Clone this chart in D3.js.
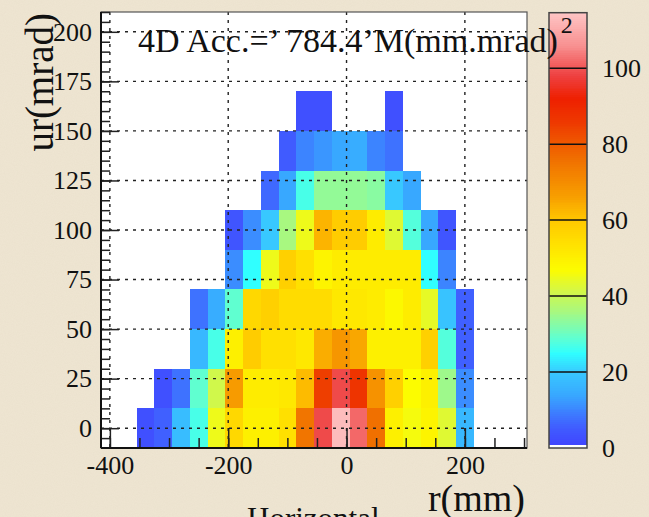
<!DOCTYPE html>
<html>
<head>
<meta charset="utf-8">
<script src="https://cdn.jsdelivr.net/npm/d3@7"></script>
<style>
  html, body { margin: 0; padding: 0; background: #efe6d3; }
  svg { display: block; }
  text { font-family: "Liberation Serif", "Times New Roman", serif; fill: #111; }
</style>
</head>
<body>
<svg id="chart" width="649" height="517"></svg>
<script>
// Bin centres (mm and mrad) of the 2D acceptance histogram
const xCenters = [-340, -310, -280, -250, -220, -190, -160, -130, -100, -70, -40, -10, 20, 50, 80, 110, 140, 170, 200];
const yCenters = [0, 20, 40, 60, 80, 100, 120, 140, 160];
const xBinWidth = 30;
const yBinWidth = 20;

// Counts per cell, one row per y bin (bottom to top); 0 = empty cell
const counts = [
  [3, 6, 18, 27, 45, 56, 50, 50, 54, 75, 99, 113, 102, 76, 50, 46, 49, 43, 17],
  [0, 3, 8, 29, 41, 67, 51, 51, 52, 62, 85, 99, 87, 69, 58, 47, 50, 35, 11],
  [0, 0, 0, 17, 27, 50, 59, 54, 54, 52, 64, 68, 65, 50, 50, 50, 58, 28, 6],
  [0, 0, 0, 8, 15, 29, 56, 58, 55, 55, 55, 52, 52, 51, 48, 51, 44, 19, 6],
  [0, 0, 0, 0, 0, 11, 25, 45, 58, 54, 49, 51, 51, 51, 51, 51, 25, 10, 0],
  [0, 0, 0, 0, 0, 4, 11, 20, 36, 45, 63, 59, 59, 51, 43, 28, 14, 4, 0],
  [0, 0, 0, 0, 0, 0, 0, 7, 14, 27, 34, 34, 34, 33, 20, 14, 0, 0, 0],
  [0, 0, 0, 0, 0, 0, 0, 0, 5, 10, 12, 14, 15, 10, 8, 0, 0, 0, 0],
  [0, 0, 0, 0, 0, 0, 0, 0, 0, 3, 3, 0, 0, 0, 3, 0, 0, 0, 0]
];

// Axis ranges and tick values
const xDomain = [-415, 305];
const yDomain = [-10, 210];
const zDomain = [0, 114.6];
const xTicks = [-400, -200, 0, 200];
const xMinorTicks = d3.range(-400, 301, 50);
const yTicks = [0, 25, 50, 75, 100, 125, 150, 175, 200];
const yMinorTicks = d3.range(-5, 211, 5);
const zTicks = [0, 20, 40, 60, 80, 100];

// Colour palette (value -> colour stops)
const paletteStops  = [0, 6, 14, 20, 25, 29, 36, 42, 47, 54, 60, 66, 76, 86, 92, 98, 106, 115];
const paletteColors = ["#4040ff", "#4060ff", "#38a8ff", "#38c8ff", "#30ffff", "#60ffd0", "#a8f880", "#d8f840",
                       "#fcfc00", "#ffe000", "#ffc800", "#f8a000", "#f07000", "#ee3800", "#ee2000", "#ee4040",
                       "#f89090", "#ffc8c8"];

// Texts
const titleMain = "4D Acc.=\u2019 784.4\u2019M(mm.mrad)";
const titleSup = "2";
const xTitle = "r(mm)";
const yTitle = "ur(mrad)";
const footerText = "Horizontal";

const svg = d3.select("#chart");
const W = 649, H = 517;
const plot = { left: 101, right: 527, top: 12, bottom: 448 };
const bar = { left: 549, right: 587, top: 12.7, bottom: 448 };

// Paper-like background
const defs = svg.append("defs");
const paper = defs.append("filter").attr("id", "paper").attr("x", 0).attr("y", 0).attr("width", 1).attr("height", 1);
paper.append("feTurbulence").attr("type", "fractalNoise").attr("baseFrequency", 0.9).attr("numOctaves", 2).attr("seed", 3);
paper.append("feColorMatrix").attr("type", "matrix")
  .attr("values", "0 0 0 0 0.55  0 0 0 0 0.45  0 0 0 0 0.3  0 0 0 0.18 0");
svg.append("rect").attr("width", W).attr("height", H).attr("fill", "#efe6d3");
svg.append("rect").attr("width", W).attr("height", H).attr("filter", "url(#paper)").attr("opacity", 0.5);

const x = d3.scaleLinear().domain(xDomain).range([plot.left, plot.right]);
const y = d3.scaleLinear().domain(yDomain).range([plot.bottom, plot.top]);
const z = d3.scaleLinear().domain(zDomain).range([bar.bottom, bar.top]);
const color = d3.scaleLinear().domain(paletteStops).range(paletteColors).interpolate(d3.interpolateRgb).clamp(true);

// Plot frame
svg.append("rect")
  .attr("x", plot.left).attr("y", plot.top)
  .attr("width", plot.right - plot.left).attr("height", plot.bottom - plot.top)
  .attr("fill", "#ffffff");

// Histogram cells
const cells = [];
counts.forEach((row, j) => row.forEach((v, i) => {
  if (v > 0) cells.push({ cx: xCenters[i], cy: yCenters[j], v });
}));
svg.append("g").selectAll("rect").data(cells).join("rect")
  .attr("x", d => x(d.cx - xBinWidth / 2))
  .attr("y", d => y(d.cy + yBinWidth / 2))
  .attr("width", d => x(d.cx + xBinWidth / 2) - x(d.cx - xBinWidth / 2))
  .attr("height", d => y(d.cy - yBinWidth / 2) - y(d.cy + yBinWidth / 2))
  .attr("fill", d => color(d.v))
  .attr("shape-rendering", "crispEdges");

// Dotted grid
const grid = svg.append("g").attr("stroke", "#222").attr("stroke-width", 1.4).attr("stroke-dasharray", "3,5");
grid.selectAll("line.h").data(yTicks).join("line").attr("class", "h")
  .attr("x1", plot.left).attr("x2", plot.right)
  .attr("y1", d => y(d)).attr("y2", d => y(d));
grid.selectAll("line.v").data(xTicks).join("line").attr("class", "v")
  .attr("y1", plot.top).attr("y2", plot.bottom)
  .attr("x1", d => x(d)).attr("x2", d => x(d));

// Frame border
svg.append("rect")
  .attr("x", plot.left).attr("y", plot.top)
  .attr("width", plot.right - plot.left).attr("height", plot.bottom - plot.top)
  .attr("fill", "none").attr("stroke", "#555").attr("stroke-width", 1.2);

// Axes with ticks pointing into the frame
function styleAxis(g) {
  g.select(".domain").remove();
  g.selectAll(".tick line").attr("stroke", "#222").attr("stroke-width", 1.5);
  g.selectAll(".tick text").attr("font-size", 26).attr("font-family", "Liberation Serif, serif").attr("fill", "#111");
}
svg.append("g").attr("transform", `translate(0,${plot.bottom})`)
  .call(d3.axisBottom(x).tickValues(xMinorTicks).tickSize(-10).tickFormat(""))
  .call(styleAxis);
svg.append("g").attr("transform", `translate(0,${plot.bottom})`)
  .call(d3.axisBottom(x).tickValues(xTicks).tickSize(-20).tickPadding(8).tickFormat(d3.format("d")))
  .call(styleAxis)
  .call(g => g.selectAll(".tick text").text(d => String(d)));
svg.append("g").attr("transform", `translate(${plot.left},0)`)
  .call(d3.axisLeft(y).tickValues(yMinorTicks).tickSize(-9).tickFormat(""))
  .call(styleAxis);
svg.append("g").attr("transform", `translate(${plot.left},0)`)
  .call(d3.axisLeft(y).tickValues(yTicks).tickSize(-18).tickPadding(9).tickFormat(d3.format("d")))
  .call(styleAxis);

// Axis lines
svg.append("line").attr("x1", plot.left).attr("x2", plot.right).attr("y1", plot.bottom).attr("y2", plot.bottom)
  .attr("stroke", "#111").attr("stroke-width", 2);
svg.append("line").attr("x1", plot.left).attr("x2", plot.left).attr("y1", plot.top).attr("y2", plot.bottom)
  .attr("stroke", "#111").attr("stroke-width", 2);

// Colour bar
const barSteps = d3.range(1, zDomain[1], 0.5);
svg.append("rect").attr("x", bar.left).attr("y", bar.top).attr("width", bar.right - bar.left)
  .attr("height", bar.bottom - bar.top).attr("fill", "#ffffff");
svg.append("g").selectAll("rect").data(barSteps).join("rect")
  .attr("x", bar.left).attr("width", bar.right - bar.left)
  .attr("y", d => z(Math.min(d + 0.5, zDomain[1])))
  .attr("height", d => z(d) - z(Math.min(d + 0.5, zDomain[1])) + 0.4)
  .attr("fill", d => color(d + 0.25))
  .attr("shape-rendering", "crispEdges");
svg.append("g").selectAll("line").data(zTicks.filter(t => t > 0)).join("line")
  .attr("x1", bar.left).attr("x2", bar.right)
  .attr("y1", d => z(d)).attr("y2", d => z(d))
  .attr("stroke", "#111").attr("stroke-width", 1.5);
svg.append("rect").attr("x", bar.left).attr("y", bar.top).attr("width", bar.right - bar.left)
  .attr("height", bar.bottom - bar.top).attr("fill", "none").attr("stroke", "#444").attr("stroke-width", 1.5);
svg.append("g").selectAll("text").data(zTicks).join("text")
  .attr("x", 602).attr("y", d => z(d)).attr("dy", "0.35em")
  .attr("font-size", 26).text(d => d);

// Axis titles
svg.append("text").attr("x", 525).attr("y", 511).attr("text-anchor", "end")
  .attr("font-size", 38).text(xTitle);
svg.append("text").attr("transform", "translate(53,13) rotate(-90)").attr("text-anchor", "end")
  .attr("font-size", 39).text(yTitle);
svg.append("text").attr("x", 247).attr("y", 529).attr("font-size", 31).text(footerText);

// Acceptance label
const title = svg.append("text").attr("x", 138).attr("y", 52).attr("font-size", 34);
title.append("tspan").text(titleMain);
title.append("tspan").attr("font-size", 24).attr("dy", -19).attr("dx", 3).text(titleSup);
</script>
</body>
</html>
